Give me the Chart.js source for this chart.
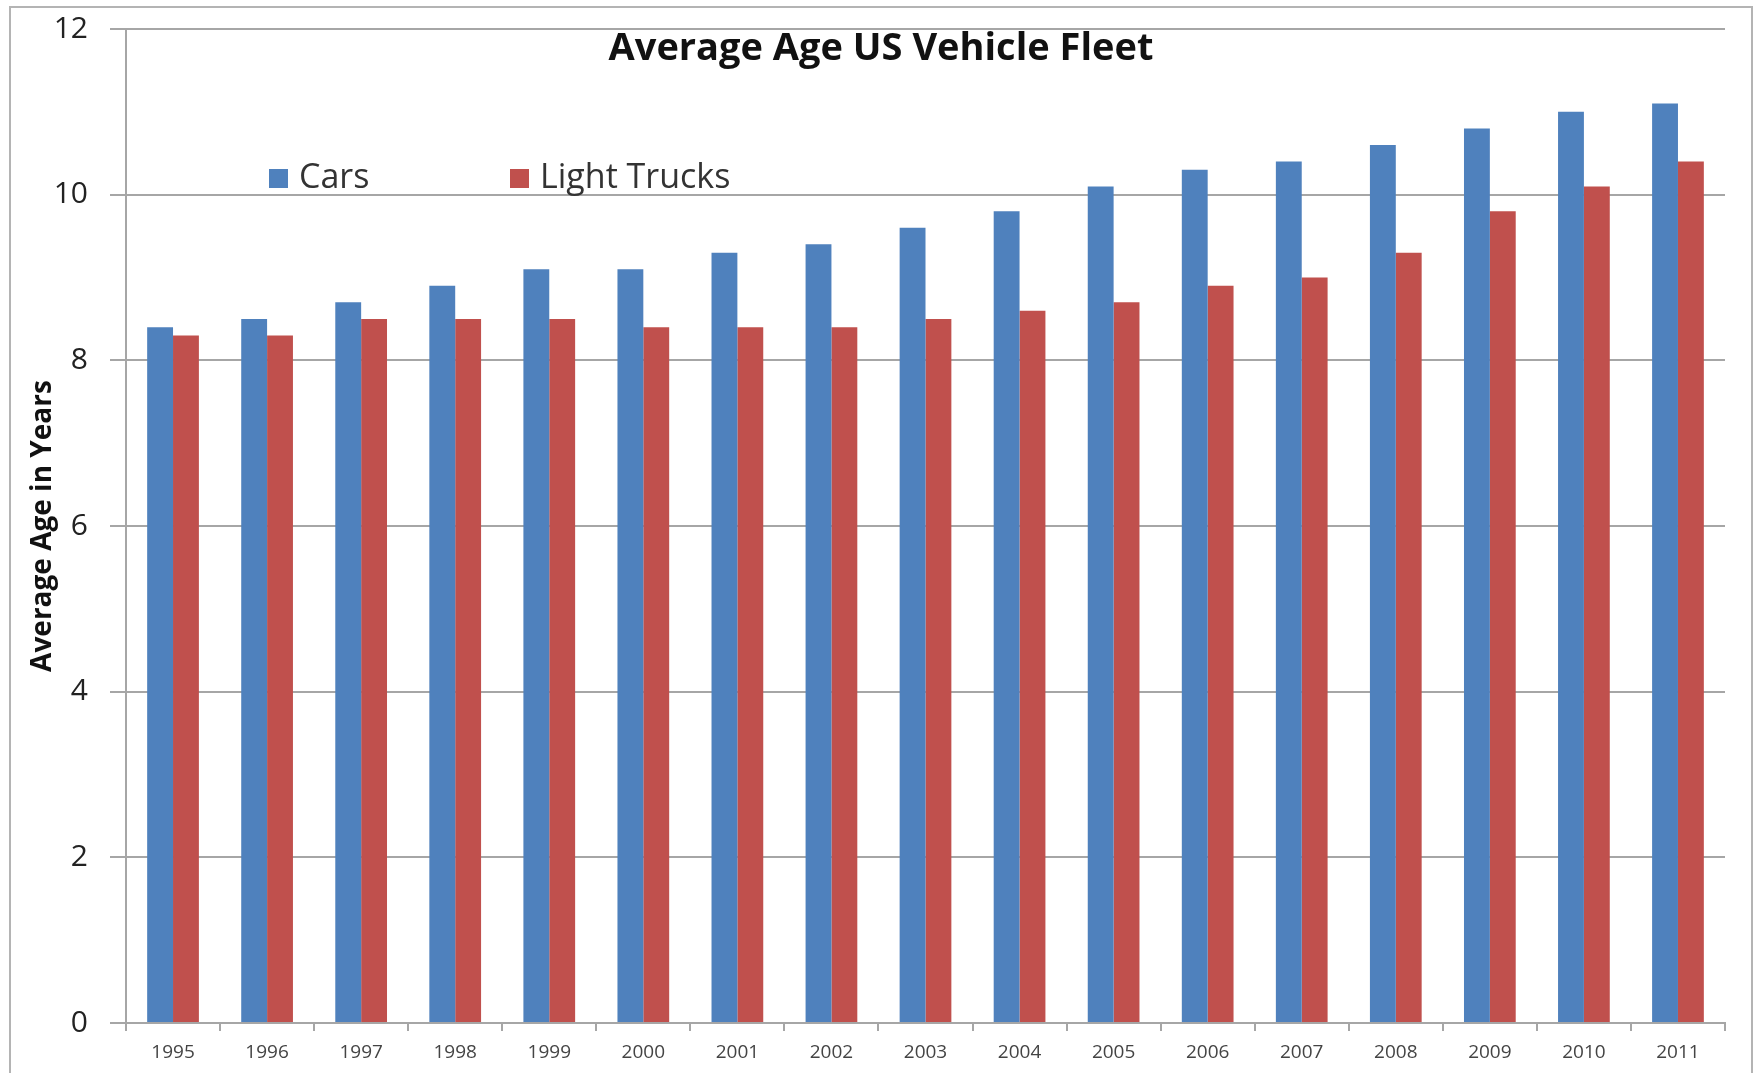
<!DOCTYPE html>
<html>
<head>
<meta charset="utf-8">
<script src="https://cdn.jsdelivr.net/npm/chart.js@4/dist/chart.umd.min.js"></script>
<style>
  html, body { margin: 0; padding: 0; background: #fff; overflow: hidden; }
  #wrap { position: relative; width: 1756px; height: 1073px; }
  #frame { position: absolute; left: 9px; top: 6px; width: 1740px; height: 1200px; border: 2px solid #b4b4b4; }
  canvas { position: absolute; left: 0; top: 0; }
</style>
</head>
<body>
<div id="wrap">
  <div id="frame"></div>
  <canvas id="chart" width="1756" height="1073"></canvas>
</div>
<script>
// adatok
const years = ['1995', '1996', '1997', '1998', '1999', '2000', '2001', '2002', '2003',
               '2004', '2005', '2006', '2007', '2008', '2009', '2010', '2011'];
const cars = [8.4, 8.5, 8.7, 8.9, 9.1, 9.1, 9.3, 9.4, 9.6, 9.8, 10.1, 10.3, 10.4, 10.6, 10.8, 11.0, 11.1];
const lightTrucks = [8.3, 8.3, 8.5, 8.5, 8.5, 8.4, 8.4, 8.4, 8.5, 8.6, 8.7, 8.9, 9.0, 9.3, 9.8, 10.1, 10.4];
const yTicks = [0, 2, 4, 6, 8, 10, 12];
const chartTitle = 'Average Age US Vehicle Fleet';
const yTitle = 'Average Age in Years';

const FONT = '"Open Sans", "Liberation Sans", sans-serif';

// cím és jelmagyarázat a rajzterületen belül
const overlay = {
    id: 'overlay',
    afterDraw(chart) {
        const ctx = chart.ctx;
        ctx.save();
        ctx.fillStyle = '#111';
        ctx.font = 'bold 38px ' + FONT;
        ctx.textAlign = 'center';
        ctx.textBaseline = 'middle';
        ctx.fillText(chartTitle, chart.width / 2 + 3, 49);

        const legendX = [269, 510];
        ctx.font = '34px ' + FONT;
        ctx.textAlign = 'left';
        chart.data.datasets.forEach((ds, i) => {
            ctx.fillStyle = ds.backgroundColor;
            ctx.fillRect(legendX[i], 169, 19, 19);
            ctx.fillStyle = '#333';
            ctx.fillText(ds.label, legendX[i] + 30, 178);
        });
        ctx.restore();
    }
};

const ctx = document.getElementById('chart').getContext('2d');
new Chart(ctx, {
    type: 'bar',
    data: {
        labels: years,
        datasets: [
            { label: 'Cars', data: cars, backgroundColor: '#4F81BD' },
            { label: 'Light Trucks', data: lightTrucks, backgroundColor: '#C0504D' }
        ]
    },
    options: {
        responsive: false,
        animation: false,
        layout: { padding: { left: 14, top: 29, right: 31, bottom: 0 } },
        datasets: { bar: { categoryPercentage: 0.55, barPercentage: 1.0 } },
        plugins: {
            legend: { display: false },
            title: { display: false },
            tooltip: { enabled: false }
        },
        scales: {
            x: {
                grid: { drawOnChartArea: false, drawTicks: true, tickLength: 8, color: '#a6a6a6', lineWidth: 2 },
                border: { display: true, color: '#a6a6a6', width: 2 },
                ticks: { color: '#444', font: { family: FONT, size: 19 }, padding: 10, maxRotation: 0 },
                afterFit(scale) { scale.height = 50; }
            },
            y: {
                min: 0,
                max: 12,
                afterBuildTicks(scale) { scale.ticks = yTicks.map(v => ({ value: v })); },
                grid: { color: '#a6a6a6', lineWidth: 2, tickLength: 16 },
                border: { display: true, color: '#a6a6a6', width: 2 },
                ticks: { color: '#222', font: { family: FONT, size: 30 }, padding: 22 },
                title: {
                    display: true,
                    text: yTitle,
                    color: '#111',
                    font: { family: FONT, size: 28, weight: 'bold' },
                    padding: { top: 12, bottom: 0 }
                },
                afterFit(scale) {
                    scale.width = 112;
                    scale.paddingTop = 0;
                    scale.paddingBottom = 0;
                }
            }
        }
    },
    plugins: [overlay]
});
</script>
</body>
</html>
